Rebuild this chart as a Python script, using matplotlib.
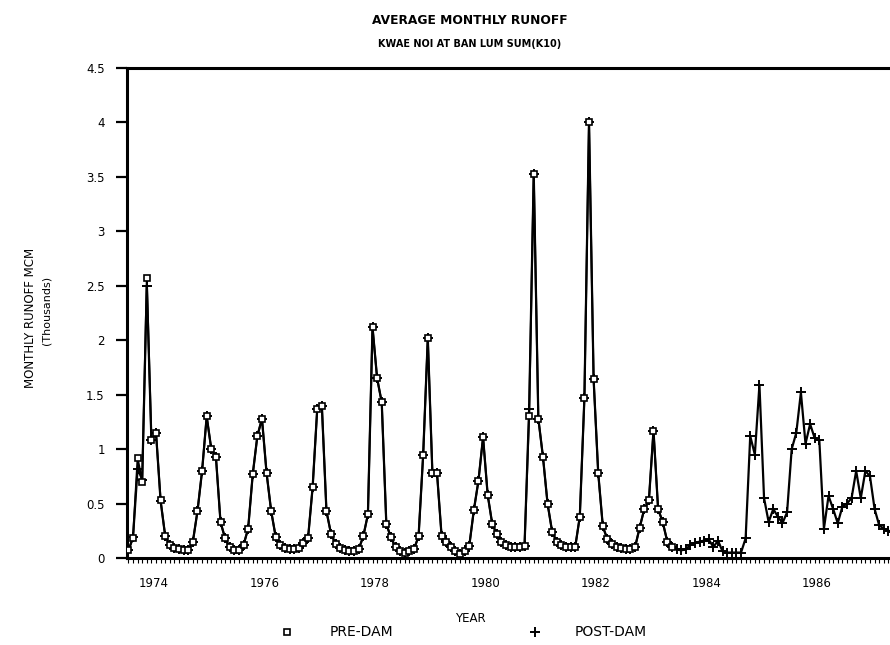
import matplotlib
matplotlib.use("Agg")
import matplotlib.pyplot as plt
from matplotlib.lines import Line2D
import numpy as np

# Monthly runoff, thousands of MCM, first month of record = index 0
post_dam = [
    0.07, 0.19, 0.82, 0.72, 2.50, 1.08, 1.15, 0.52, 0.20, 0.12, 0.09, 0.08,
    0.07, 0.07, 0.15, 0.43, 0.80, 1.30, 1.00, 0.93, 0.33, 0.18, 0.10, 0.07,
    0.07, 0.12, 0.27, 0.77, 1.12, 1.28, 0.78, 0.43, 0.19, 0.12, 0.09, 0.08,
    0.08, 0.09, 0.14, 0.18, 0.65, 1.37, 1.40, 0.43, 0.22, 0.13, 0.09, 0.07,
    0.06, 0.06, 0.08, 0.20, 0.40, 2.12, 1.65, 1.43, 0.31, 0.19, 0.10, 0.06,
    0.05, 0.06, 0.08, 0.20, 0.95, 2.02, 0.78, 0.78, 0.20, 0.15, 0.10, 0.06,
    0.04, 0.06, 0.11, 0.44, 0.71, 1.11, 0.58, 0.31, 0.22, 0.15, 0.12, 0.10,
    0.10, 0.10, 0.11, 1.37, 3.53, 1.28, 0.93, 0.50, 0.24, 0.15, 0.12, 0.10,
    0.10, 0.10, 0.38, 1.47, 4.00, 1.64, 0.78, 0.29, 0.17, 0.13, 0.10, 0.09,
    0.08, 0.08, 0.10, 0.28, 0.45, 0.53, 1.17, 0.45, 0.33, 0.15, 0.10, 0.08,
    0.07, 0.08, 0.12, 0.14, 0.15, 0.16, 0.17, 0.10, 0.16, 0.06, 0.05, 0.05,
    0.05, 0.05, 0.18, 1.12, 0.95, 1.59, 0.55, 0.33, 0.45, 0.38, 0.32, 0.42,
    1.00, 1.15, 1.52, 1.05, 1.23, 1.10, 1.08, 0.27, 0.57, 0.45, 0.32, 0.47,
    0.50, 0.55, 0.80, 0.55, 0.80, 0.75, 0.45, 0.30, 0.27, 0.25, 0.24,
]

pre_dam = [
    0.07, 0.18, 0.92, 0.70, 2.57, 1.08, 1.15, 0.53, 0.20, 0.12, 0.09, 0.08,
    0.07, 0.07, 0.15, 0.43, 0.80, 1.30, 1.00, 0.93, 0.33, 0.18, 0.10, 0.07,
    0.07, 0.12, 0.27, 0.77, 1.12, 1.28, 0.78, 0.43, 0.19, 0.12, 0.09, 0.08,
    0.08, 0.09, 0.14, 0.18, 0.65, 1.37, 1.40, 0.43, 0.22, 0.13, 0.09, 0.07,
    0.06, 0.06, 0.08, 0.20, 0.40, 2.12, 1.65, 1.43, 0.31, 0.19, 0.10, 0.06,
    0.05, 0.06, 0.08, 0.20, 0.95, 2.02, 0.78, 0.78, 0.20, 0.15, 0.10, 0.06,
    0.04, 0.06, 0.11, 0.44, 0.71, 1.11, 0.58, 0.31, 0.22, 0.15, 0.12, 0.10,
    0.10, 0.10, 0.11, 1.30, 3.53, 1.28, 0.93, 0.50, 0.24, 0.15, 0.12, 0.10,
    0.10, 0.10, 0.38, 1.47, 4.00, 1.64, 0.78, 0.29, 0.17, 0.13, 0.10, 0.09,
    0.08, 0.08, 0.10, 0.28, 0.45, 0.53, 1.17, 0.45, 0.33, 0.15, 0.10,
]

year_labels = ["1974", "1976", "1978", "1980", "1982", "1984", "1986"]
y_ticks = [0, 0.5, 1, 1.5, 2, 2.5, 3, 3.5, 4, 4.5]
y_tick_labels = ["0", "0.5", "1", "1.5", "2", "2.5", "3", "3.5", "4", "4.5"]
series_names = ["PRE-DAM", "POST-DAM"]

W, H = 890, 645
fig = plt.figure(figsize=(W / 100, H / 100), dpi=100)
plt.rcParams["font.family"] = ["DejaVu Sans"]

# axes box in pixels (runs past the right edge of the sheet)
left, right, top, bottom = 127, 905, 68, 558
ax = fig.add_axes([left / W, 1 - bottom / H, (right - left) / W, (bottom - top) / H])

m_post = np.arange(len(post_dam))
m_pre = np.arange(len(pre_dam))

sq_style = dict(marker="s", ms=5, mew=1.2, mfc="white", mec="black")
pl_style = dict(marker="+", ms=7, mew=1.4)

ax.plot(m_post, post_dam, color="black", lw=1.6, zorder=3, **pl_style)
ax.plot(m_pre, pre_dam, color="black", lw=1.4, zorder=4, **sq_style)

ax.set_xlim(-0.3, 168.6)
ax.set_ylim(0, 4.5)

# y axis
ax.set_yticks(y_ticks)
ax.set_yticklabels(y_tick_labels, fontsize=8.5)
ax.tick_params(axis="y", direction="out", length=8, width=1.6, pad=8)

# x axis: a tick per month, a year label every second year
ax.set_xticks([5.5 + 24 * k for k in range(len(year_labels))])
ax.set_xticklabels(year_labels, fontsize=8.5)
ax.set_xticks(np.arange(0, 169, 1), minor=True)
ax.tick_params(axis="x", which="major", length=0, pad=14)
ax.tick_params(axis="x", which="minor", direction="out", length=3.5, width=0.8)

for side in ("left", "top", "bottom"):
    ax.spines[side].set_linewidth(2.2)
ax.spines["right"].set_visible(False)

cx = 470 / W
fig.text(cx, 1 - 20 / H, "AVERAGE MONTHLY RUNOFF", ha="center", va="center",
         fontsize=8.8, fontweight="semibold")
fig.text(cx, 1 - 44 / H, "KWAE NOI AT BAN LUM SUM(K10)", ha="center", va="center",
         fontsize=7, fontweight="semibold")
fig.text(31 / W, 1 - 318 / H, "MONTHLY RUNOFF MCM", rotation=90, ha="center",
         va="center", fontsize=8.5)
fig.text(46 / W, 1 - 310 / H, "(Thousands)", rotation=90, ha="center",
         va="center", fontsize=8)
fig.text(cx, 1 - 618 / H, "YEAR", ha="center", va="center", fontsize=8.5)

# legend row below the axis title
ly = 1 - 632 / H
fig.add_artist(Line2D([287 / W], [ly], transform=fig.transFigure, ls="none", **sq_style))
fig.text(330 / W, ly, series_names[0], ha="left", va="center", fontsize=10)
fig.add_artist(Line2D([535 / W], [ly], transform=fig.transFigure, ls="none",
                      color="black", **pl_style))
fig.text(575 / W, ly, series_names[1], ha="left", va="center", fontsize=10)

fig.savefig("out.png", dpi=100)
